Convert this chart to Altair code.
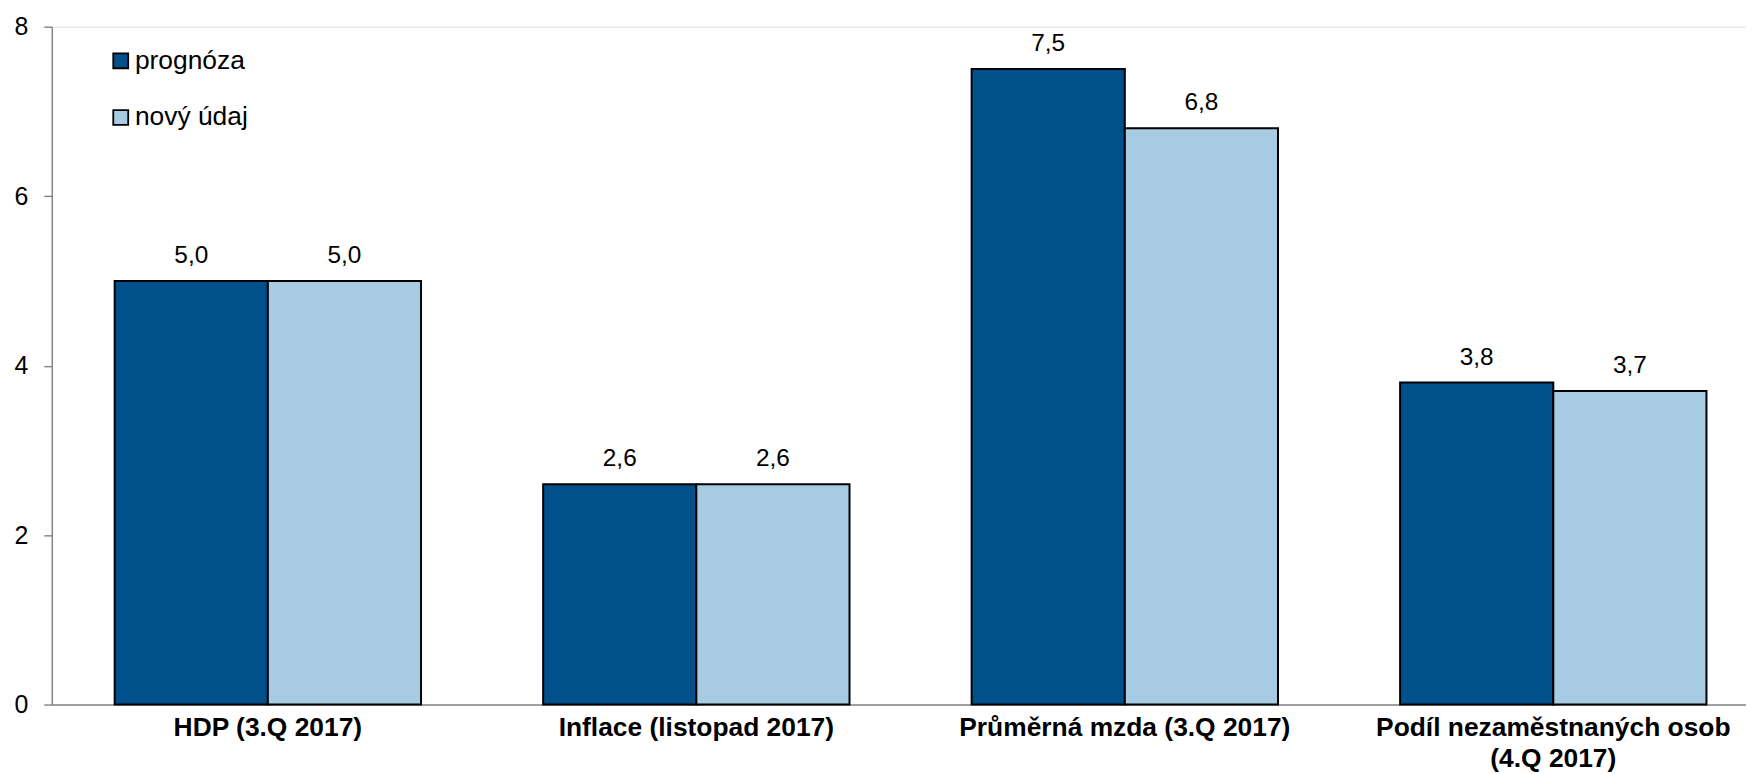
import altair as alt
import pandas as pd

categories = [
    "HDP (3.Q 2017)",
    "Inflace (listopad 2017)",
    "Průměrná mzda (3.Q 2017)",
    "Podíl nezaměstnaných osob|(4.Q 2017)",
]
series = ["prognóza", "nový údaj"]
prognoza = [5.0, 2.6, 7.5, 3.8]
novy_udaj = [5.0, 2.6, 6.8, 3.7]
colors = ["#00508C", "#A6CBE3"]
y_ticks = [0, 2, 4, 6, 8]

rows = []
for c, p, n in zip(categories, prognoza, novy_udaj):
    rows.append({"kategorie": c, "rada": series[0], "hodnota": p})
    rows.append({"kategorie": c, "rada": series[1], "hodnota": n})
df = pd.DataFrame(rows)

FONT = "Liberation Sans"

base = alt.Chart(df).encode(
    x=alt.X(
        "kategorie:N",
        sort=categories,
        scale=alt.Scale(paddingInner=0.285, paddingOuter=0.1195, align=0.614),
        axis=alt.Axis(
            title=None,
            labelAngle=0,
            labelExpr="split(datum.label, '|')",
            ticks=False,
            domainColor="#868686",
            domainWidth=1.5,
            labelFont=FONT,
            labelFontSize=26.5,
            labelFontWeight="bold",
            labelColor="black",
            labelPadding=10,
            labelLineHeight=31,
            labelLimit=0,
            labelOverlap=False,
            labelBound=False,
        ),
    ),
    xOffset=alt.XOffset(
        "rada:N", sort=series, scale=alt.Scale(paddingInner=0, paddingOuter=0)
    ),
)

bars = base.mark_bar(stroke="black", strokeWidth=2).encode(
    y=alt.Y(
        "hodnota:Q",
        scale=alt.Scale(domain=[0, 8], nice=False),
        axis=alt.Axis(
            values=y_ticks,
            format="d",
            title=None,
            grid=False,
            domainColor="#868686",
            domainWidth=1.5,
            tickColor="#868686",
            tickWidth=1.5,
            tickSize=8,
            labelFont=FONT,
            labelFontSize=25,
            labelColor="black",
            labelPadding=16,
        ),
    ),
    color=alt.Color(
        "rada:N",
        sort=series,
        scale=alt.Scale(domain=series, range=colors),
        legend=alt.Legend(
            title=None,
            orient="none",
            legendX=56,
            legendY=21,
            padding=0,
            symbolType="square",
            symbolSize=225,
            symbolStrokeColor="black",
            symbolStrokeWidth=1.8,
            labelFont=FONT,
            labelFontSize=26.5,
            labelColor="black",
            labelOffset=1,
            rowPadding=30,
        ),
    ),
)

labels = (
    base.transform_calculate(
        label="replace(format(datum.hodnota, '.1f'), '.', ',')"
    )
    .mark_text(dy=-25, fontSize=24.5, font=FONT, color="black", baseline="middle")
    .encode(y=alt.Y("hodnota:Q"), text="label:N")
)

chart = (
    alt.layer(bars, labels)
    .properties(
        width=1702,
        height=681,
        autosize=alt.AutoSizeParams(type="none"),
        padding={"left": 44, "top": 17, "right": 0, "bottom": 68},
    )
    .configure_view(stroke=None)
    .configure(background="white")
)

chart.save("out.html", embed_options={"renderer": "svg", "actions": False})
